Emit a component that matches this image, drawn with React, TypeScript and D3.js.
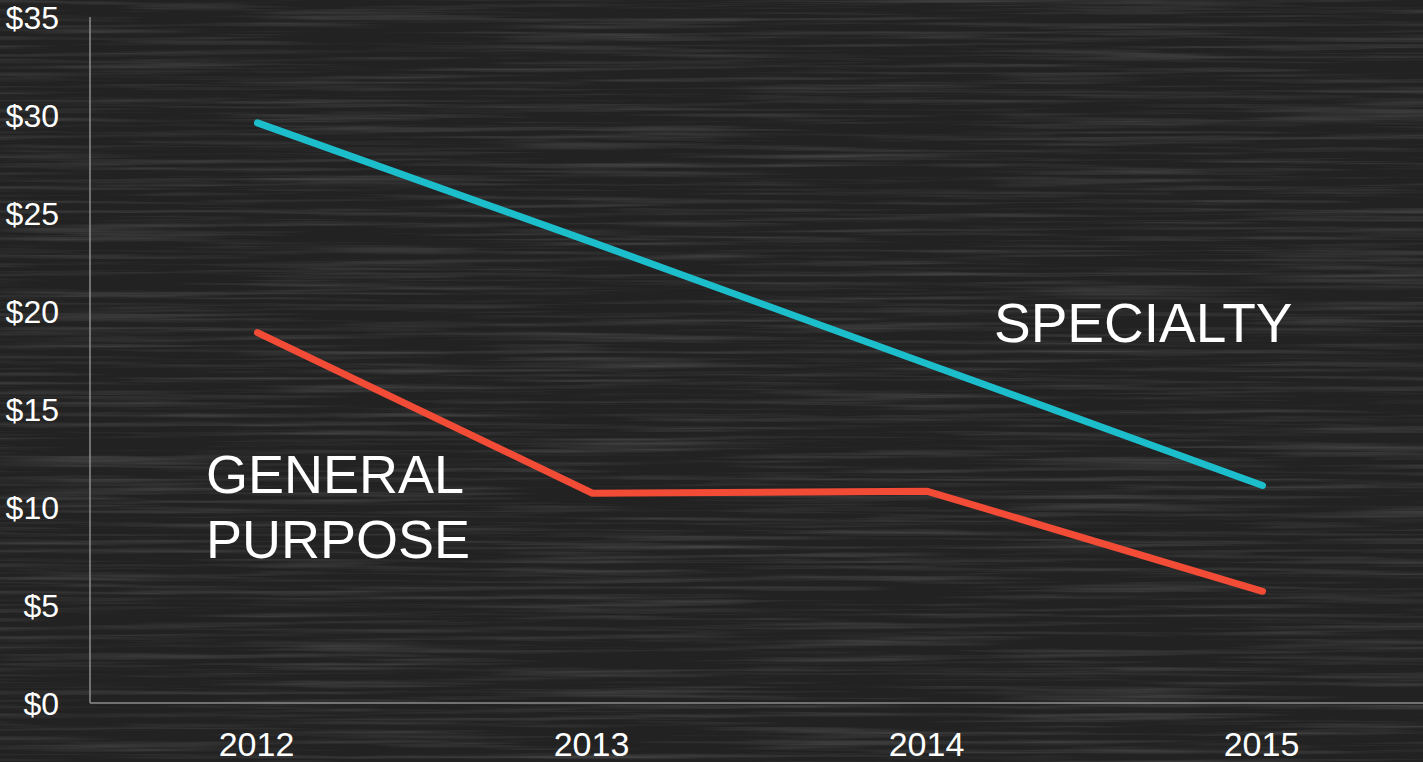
import React, { useEffect, useRef } from 'react';
import * as d3 from 'd3';

const years = ['2012', '2013', '2014', '2015'];
const specialty = [29.6, 23.5, 17.3, 11.1];
const generalPurpose = [18.9, 10.7, 10.8, 5.7];
const yTicks = [0, 5, 10, 15, 20, 25, 30, 35];

const W = 1423;
const H = 762;

export default function App() {
    const svgRef = useRef<SVGSVGElement | null>(null);

    useEffect(() => {
        document.body.style.margin = '0';
        const svg = d3.select(svgRef.current);
        svg.selectAll('*').remove();

        // chalkboard-ish texture
        const defs = svg.append('defs');
        const filter = defs.append('filter').attr('id', 'grain')
            .attr('x', 0).attr('y', 0).attr('width', '100%').attr('height', '100%');
        filter.append('feTurbulence')
            .attr('type', 'fractalNoise')
            .attr('baseFrequency', '0.004 0.22')
            .attr('numOctaves', 4)
            .attr('seed', 7);
        filter.append('feColorMatrix')
            .attr('type', 'matrix')
            .attr('values', '0 0 0 0 1  0 0 0 0 1  0 0 0 0 1  0 0 0 -1.1 0.62');

        svg.append('rect').attr('width', W).attr('height', H).attr('fill', '#222222');
        svg.append('rect').attr('width', W).attr('height', H).attr('filter', 'url(#grain)').attr('opacity', 0.28);

        const x = d3.scalePoint<string>().domain(years).range([90, 1430]).padding(0.5);
        const y = d3.scaleLinear().domain([0, 35]).range([703, 17]);

        const font = '"Liberation Sans", Arial, sans-serif';

        // axes
        svg.append('line')
            .attr('x1', 90).attr('x2', 90)
            .attr('y1', y(35)).attr('y2', y(0))
            .attr('stroke', '#8c8c8c').attr('stroke-width', 1.5);
        svg.append('line')
            .attr('x1', 90).attr('x2', W)
            .attr('y1', y(0)).attr('y2', y(0))
            .attr('stroke', '#8c8c8c').attr('stroke-width', 1.5);

        svg.append('g').selectAll('text')
            .data(yTicks)
            .enter()
            .append('text')
            .attr('x', 59)
            .attr('y', (d) => y(d))
            .attr('dy', '0.36em')
            .attr('text-anchor', 'end')
            .attr('font-family', font)
            .attr('font-size', 32)
            .attr('fill', '#ffffff')
            .text((d) => `$${d}`);

        svg.append('g').selectAll('text')
            .data(years)
            .enter()
            .append('text')
            .attr('x', (d) => (x(d) ?? 0) - 1)
            .attr('y', 756)
            .attr('text-anchor', 'middle')
            .attr('font-family', font)
            .attr('font-size', 34)
            .attr('fill', '#ffffff')
            .text((d) => d);

        const line = d3.line<number>()
            .x((_, i) => x(years[i]) ?? 0)
            .y((d) => y(d));

        svg.append('path')
            .attr('d', line(specialty))
            .attr('fill', 'none')
            .attr('stroke', '#1cbecb')
            .attr('stroke-width', 7)
            .attr('stroke-linecap', 'round')
            .attr('stroke-linejoin', 'round');

        svg.append('path')
            .attr('d', line(generalPurpose))
            .attr('fill', 'none')
            .attr('stroke', '#f24b36')
            .attr('stroke-width', 7)
            .attr('stroke-linecap', 'round')
            .attr('stroke-linejoin', 'round');

        // series labels
        svg.append('text')
            .attr('x', 994).attr('y', 342)
            .attr('font-family', font).attr('font-size', 55)
            .attr('fill', '#ffffff')
            .text('SPECIALTY');

        const gp = svg.append('text')
            .attr('font-family', font).attr('font-size', 54)
            .attr('fill', '#ffffff');
        gp.append('tspan').attr('x', 206).attr('y', 493).text('GENERAL');
        gp.append('tspan').attr('x', 206).attr('y', 558).text('PURPOSE');
    }, []);

    return <svg ref={svgRef} width={W} height={H} style={{ display: 'block' }}></svg>;
}
